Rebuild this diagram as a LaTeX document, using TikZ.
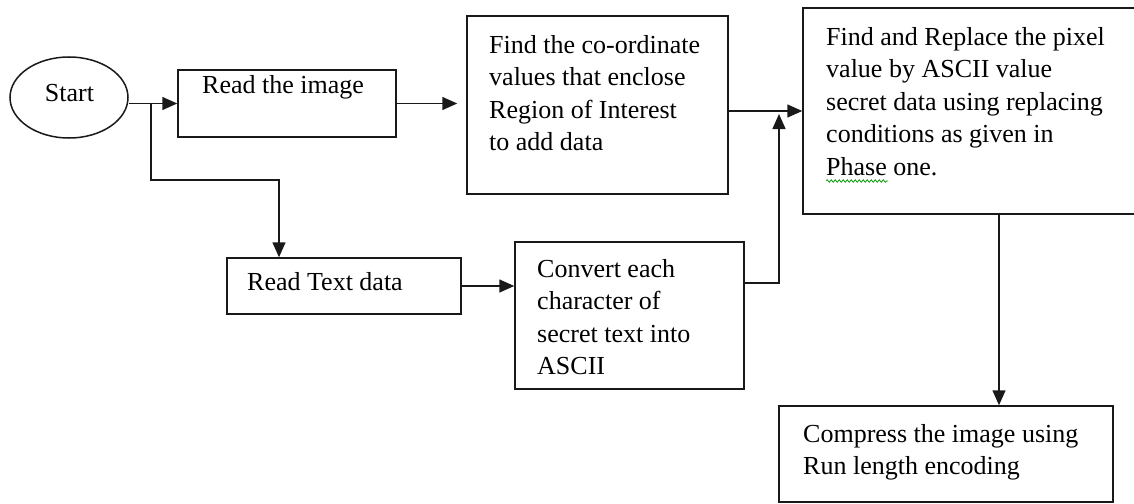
\documentclass[tikz,border=0pt]{standalone}
\usepackage{fontspec}
\setmainfont{Liberation Serif}
\usetikzlibrary{arrows.meta,shapes.geometric,decorations.pathmorphing,calc}

\tikzset{
  flow/.style={draw=black!90, line width=1.5pt},
  box/.style={flow, rectangle, inner sep=0pt},
  terminal/.style={flow, ellipse, inner sep=0pt},
  % multi-line labels are placed by the baseline of their last line
  lbl/.style={anchor=base west, inner sep=0pt, align=left,
              font=\fontsize{26}{32.5}\selectfont},
  arr/.style={flow, -{Triangle[length=15pt,width=13pt]}},
}

\begin{document}
\begin{tikzpicture}[x=1pt,y=-1pt]
  \useasboundingbox (0,0) rectangle (1134,503);

  % process boxes
  \node[terminal, minimum width=118, minimum height=81] (start) at (69,97.5) {};
  \node[box, minimum width=218, minimum height=67]  (readimg)  at (287,103.5) {};
  \node[box, minimum width=261, minimum height=178] (findco)   at (597.5,105) {};
  \node[box, minimum width=334, minimum height=206] (replace)  at (970,111) {};
  \node[box, minimum width=234, minimum height=56]  (readtxt)  at (344,286) {};
  \node[box, minimum width=229, minimum height=147] (convert)  at (629.5,315.5) {};
  \node[box, minimum width=334, minimum height=96]  (compress) at (946,454) {};

  % texts
  \node[lbl, anchor=base] (tstart) at (69.5,101) {Start};
  \node[lbl] (timg) at (202,93) {Read the image};
  \node[lbl] (tfind) at (489,150.5) {Find the co-ordinate\\values that enclose\\Region of Interest\\to add data};
  \node[lbl] (trep) at (826,175) {Find and Replace the pixel\\value by ASCII value\\secret data using replacing\\conditions as given in\\Phase one.};
  \node[lbl] (ttxt) at (247,290) {Read Text data};
  \node[lbl] (tconv) at (537,374.5) {Convert each\\character of\\secret text into\\ASCII};
  \node[lbl] (tcomp) at (803,474.5) {Compress the image using\\Run length encoding};

  % spelling mark under "Phase"
  \draw[green!60!black, line width=0.7pt,
        decorate, decoration={snake, amplitude=1.3pt, segment length=4pt}]
        (826,181) -- (888,181);

  % connectors
  \coordinate (fork) at (151,0);
  \coordinate (drop) at (279,180);
  \coordinate (rise) at (779,0);
  \coordinate (down) at (999,0);

  \draw[arr] (start.east |- readimg.west) -- (readimg.west);
  \draw[arr] (fork |- readimg.west) |- (drop) -- (drop |- readtxt.north);
  \draw[arr, shorten >=9pt] (readimg.east) -- (findco.west |- readimg.east);
  \draw[arr] (findco.east |- replace.west) -- (replace.west);
  \draw[arr] (readtxt.east) -- (convert.west |- readtxt.east);
  \draw[arr] ($(convert.east)+(0,-32.5)$) -| ($(rise |- replace.west)+(0,3)$);
  \draw[arr] (down |- replace.south) -- (down |- compress.north);
\end{tikzpicture}
\end{document}
